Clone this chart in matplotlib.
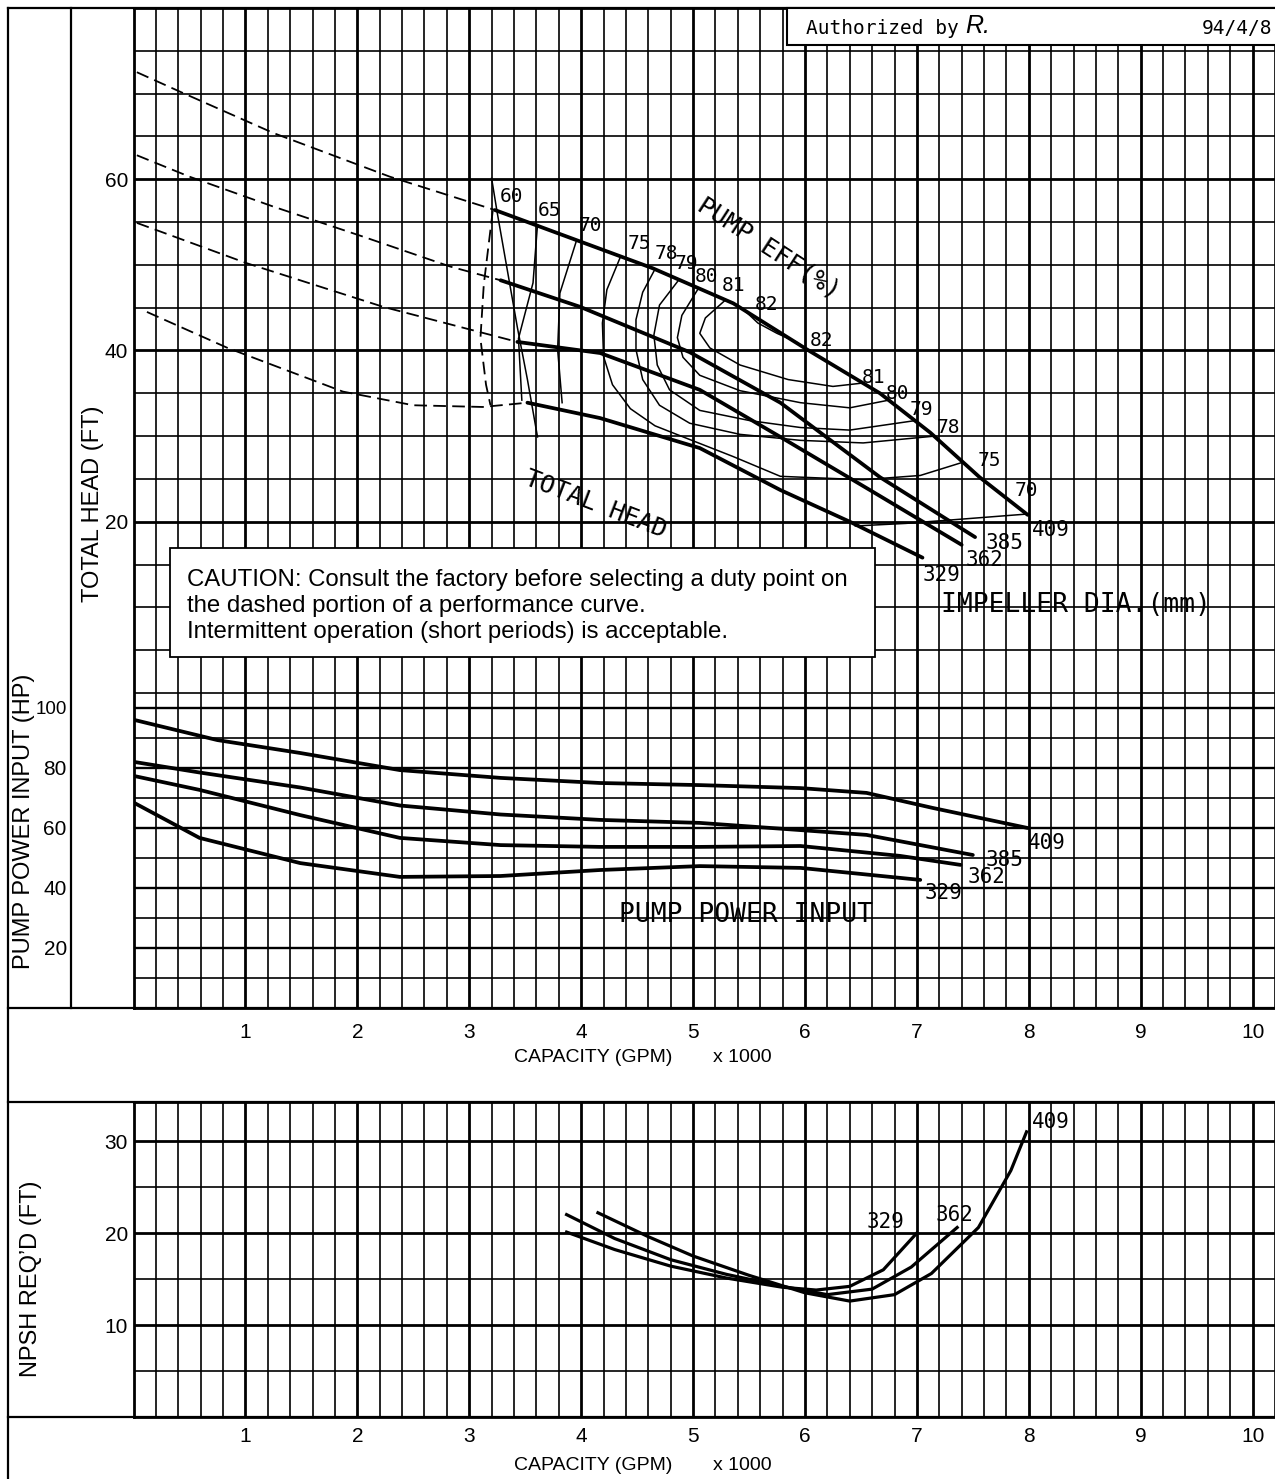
import numpy as np
import matplotlib
matplotlib.use("Agg")
import matplotlib.pyplot as plt
from matplotlib.lines import Line2D
from matplotlib.patches import Rectangle

plt.rcParams['font.family'] = ['Liberation Sans', 'DejaVu Sans']
MONO = ['DejaVu Sans Mono']

# ---------------- data ----------------
capacity_ticks = [1, 2, 3, 4, 5, 6, 7, 8, 9, 10]
head_ticks = [20, 40, 60]
power_ticks = [20, 40, 60, 80, 100]
npsh_ticks = [10, 20, 30]
impellers = ["409", "385", "362", "329"]

# total head (x1000 GPM, ft) : dashed (not recommended) and solid parts
hq409_dash = [0.03, 0.42, 1.25, 2.29, 3.23]
hh409_dash = [72.5, 70.2, 65.4, 60.3, 56.4]
hq409 = [3.23, 4.64, 5.36, 6.02, 6.67, 7.12, 7.56, 7.99]
hh409 = [56.4, 49.6, 45.5, 40.1, 35.0, 30.4, 25.2, 20.8]

hq385_dash = [0.03, 0.50, 1.25, 2.05, 2.83, 3.28]
hh385_dash = [62.8, 60.3, 56.8, 53.3, 49.8, 48.2]
hq385 = [3.28, 3.99, 4.97, 5.78, 6.67, 7.52]
hh385 = [48.2, 45.1, 39.8, 33.9, 25.2, 18.2]

hq362_dash = [0.03, 1.01, 2.23, 3.43]
hh362_dash = [54.9, 50.2, 45.1, 41.0]
hq362 = [3.43, 4.17, 5.06, 5.78, 6.58, 7.40]
hh362 = [41.0, 39.7, 35.4, 29.9, 23.7, 17.3]

hq329_dash = [0.12, 0.84, 1.87, 2.50, 3.12, 3.52]
hh329_dash = [44.5, 40.3, 35.2, 33.6, 33.4, 33.9]
hq329 = [3.52, 4.17, 5.06, 5.78, 6.40, 7.05]
hh329 = [33.9, 32.1, 28.6, 23.7, 20.0, 15.8]

# minimum-flow boundary (dashed)
minflow_q = [3.21, 3.13, 3.10, 3.15, 3.19]
minflow_h = [56.3, 47.7, 41.4, 36.0, 33.6]

# efficiency contours (%)
eff60_q = [3.20, 3.25, 3.34, 3.43, 3.52, 3.61]
eff60_h = [60.1, 56.1, 49.4, 42.7, 36.6, 29.9]
eff65_q = [3.61, 3.57, 3.44, 3.47]
eff65_h = [54.7, 47.9, 41.4, 34.2]
eff70_q = [3.96, 3.81, 3.79, 3.83]
eff70_h = [52.9, 46.7, 40.1, 33.9]
eff70b_q = [6.45, 6.90, 7.40, 7.99]
eff70b_h = [19.5, 19.8, 20.3, 20.9]
eff75_q = [4.35, 4.23, 4.19, 4.20, 4.28, 4.44, 4.66, 4.97, 5.36, 5.78, 6.52, 7.03, 7.40]
eff75_h = [50.9, 47.1, 43.2, 39.3, 36.0, 33.2, 31.2, 29.6, 27.6, 25.3, 24.9, 25.4, 26.9]
eff78_q = [4.66, 4.55, 4.49, 4.49, 4.55, 4.70, 4.97, 5.42, 5.96, 6.52, 7.16]
eff78_h = [49.5, 46.8, 43.6, 40.1, 36.6, 33.6, 31.5, 30.2, 29.5, 29.2, 30.0]
eff79_q = [4.87, 4.70, 4.65, 4.68, 4.79, 5.06, 5.51, 5.96, 6.40, 6.98]
eff79_h = [48.2, 45.3, 41.8, 38.3, 35.4, 33.0, 31.8, 31.0, 30.7, 31.8]
eff80_q = [5.05, 4.90, 4.86, 4.91, 5.06, 5.42, 5.96, 6.40, 6.75]
eff80_h = [47.3, 44.1, 41.5, 39.2, 37.1, 35.3, 33.9, 33.3, 34.2]
eff81_q = [5.29, 5.11, 5.06, 5.15, 5.42, 5.85, 6.25, 6.52]
eff81_h = [45.9, 43.8, 42.0, 40.3, 38.3, 36.6, 35.8, 36.2]
eff82_q = [5.45, 5.58, 5.75, 5.92, 6.05]
eff82_h = [44.8, 43.2, 42.0, 41.0, 39.9]

# pump power input (x1000 GPM, HP)
pq409 = [0.01, 0.75, 1.49, 2.38, 3.28, 4.17, 5.06, 5.96, 6.55, 7.14, 7.99]
pp409 = [96.0, 89.3, 85.0, 79.3, 76.7, 75.0, 74.3, 73.3, 71.7, 66.7, 60.0]
pq385 = [0.01, 0.59, 1.49, 2.38, 3.28, 4.17, 5.06, 5.96, 6.55, 7.50]
pp385 = [82.0, 78.5, 73.5, 67.5, 64.5, 62.7, 61.7, 59.3, 57.7, 51.0]
pq362 = [0.01, 0.59, 1.49, 2.38, 3.28, 4.17, 5.06, 5.96, 6.85, 7.39]
pp362 = [77.3, 72.7, 64.3, 56.7, 54.3, 53.7, 53.7, 54.0, 50.7, 47.7]
pq329 = [0.01, 0.59, 1.49, 2.38, 3.28, 4.17, 5.06, 5.96, 7.03]
pp329 = [68.3, 56.7, 48.3, 43.7, 44.0, 46.0, 47.3, 46.7, 42.7]

# NPSH required (x1000 GPM, ft)
nq329 = [3.87, 4.3, 4.8, 5.3, 5.8, 6.1, 6.4, 6.7, 7.0]
nn329 = [20.1, 18.2, 16.4, 15.1, 14.1, 13.8, 14.2, 16.0, 20.0]
nq362 = [3.87, 4.3, 4.8, 5.3, 5.8, 6.2, 6.6, 6.95, 7.36]
nn362 = [22.0, 19.4, 17.1, 15.5, 14.2, 13.3, 13.9, 16.3, 20.6]
nq409 = [4.15, 4.6, 5.0, 5.5, 6.0, 6.4, 6.8, 7.13, 7.55, 7.84, 7.98]
nn409 = [22.2, 19.6, 17.5, 15.4, 13.5, 12.6, 13.3, 15.6, 20.6, 26.8, 31.0]

caution_lines = ["CAUTION: Consult the factory before selecting a duty point on",
                 "the dashed portion of a performance curve.",
                 "Intermittent operation (short periods) is acceptable."]

# ---------------- figure ----------------
W, H = 1275, 1479
fig = plt.figure(figsize=(W / 100, H / 100), dpi=100)


def rect(x0, y0, x1, y1):
    return [x0 / W, 1 - y1 / H, (x1 - x0) / W, (y1 - y0) / H]


def fline(x0, y0, x1, y1, lw=1.6):
    fig.add_artist(Line2D([x0 / W, x1 / W], [1 - y0 / H, 1 - y1 / H],
                          transform=fig.transFigure, color='black', lw=lw, zorder=3))


def ftext(x, y, s, **kw):
    fig.text(x / W, 1 - y / H, s, **kw)


ax = fig.add_axes(rect(133.5, 8, 1275, 1008))
ax.set_xlim(0, 10.2)
ax.set_ylim(-36.8, 80)
axp = ax.twinx()
axp.set_ylim(0, 333.33)
axn = fig.add_axes(rect(133.5, 1102, 1275, 1417))
axn.set_xlim(0, 10.2)
axn.set_ylim(0, 34.24)

for a, pad in ((ax, 11), (axn, 7)):
    a.set_xticks(capacity_ticks)
    a.set_xticklabels([str(v) for v in capacity_ticks])
    a.set_xticks(np.arange(0, 10.21, 0.2), minor=True)
    a.tick_params(axis='x', which='both', length=0, labelsize=15, pad=pad)
    a.spines['right'].set_visible(False)
    for s in ('left', 'top', 'bottom'):
        a.spines[s].set_linewidth(2.0)

ax.set_yticks(head_ticks)
ax.set_yticks(np.arange(0, 81, 5), minor=True)
ax.tick_params(axis='y', which='both', length=0, labelsize=15, pad=4)

axp.yaxis.tick_left()
axp.set_yticks(power_ticks)
axp.set_yticklabels([str(v) for v in power_ticks])
axp.set_yticks(np.arange(0, 101, 10), minor=True)
axp.tick_params(axis='y', which='both', length=0, labelsize=15, pad=48,
                left=True, labelleft=True, right=False, labelright=False)
axp.get_yticklabels()[-1].set_fontsize(13.5)
for s in axp.spines.values():
    s.set_visible(False)

axn.set_yticks(npsh_ticks)
axn.set_yticks(np.arange(0, 31, 5), minor=True)
axn.tick_params(axis='y', which='both', length=0, labelsize=15, pad=4)

for a in (ax, axn):
    a.grid(True, which='major', axis='both', color='black', lw=2.0)
    a.grid(True, which='minor', axis='both', color='black', lw=1.2)
    a.set_axisbelow(True)
axp.grid(True, which='major', axis='y', color='black', lw=1.7)
axp.grid(True, which='minor', axis='y', color='black', lw=1.2)

TH = 2.7
DASH = dict(color='black', lw=1.3, linestyle=(0, (7, 3.5)))
THIN = dict(color='black', lw=1.1)

# head curves
for q, h in ((hq409_dash, hh409_dash), (hq385_dash, hh385_dash),
             (hq362_dash, hh362_dash), (hq329_dash, hh329_dash),
             (minflow_q, minflow_h)):
    ax.plot(q, h, **DASH)
for q, h in ((hq409, hh409), (hq385, hh385), (hq362, hh362), (hq329, hh329)):
    ax.plot(q, h, color='black', lw=TH, solid_capstyle='round')

for q, h in ((eff60_q, eff60_h), (eff65_q, eff65_h), (eff70_q, eff70_h),
             (eff70b_q, eff70b_h), (eff75_q, eff75_h), (eff78_q, eff78_h),
             (eff79_q, eff79_h), (eff80_q, eff80_h), (eff81_q, eff81_h),
             (eff82_q, eff82_h)):
    ax.plot(q, h, **THIN)

# power curves
for q, p in ((pq409, pp409), (pq385, pp385), (pq362, pp362), (pq329, pp329)):
    axp.plot(q, p, color='black', lw=TH, solid_capstyle='round')

# NPSH curves
for q, n in ((nq329, nn329), (nq362, nn362), (nq409, nn409)):
    axn.plot(q, n, color='black', lw=2.3)

# hand-lettered labels
LBL = dict(family=MONO, color='black')
for s, x, y in (("60", 3.38, 58.0), ("65", 3.72, 56.3), ("70", 4.08, 54.6),
                ("75", 4.52, 52.5), ("78", 4.76, 51.3), ("79", 4.94, 50.1),
                ("80", 5.12, 48.6), ("81", 5.36, 47.6), ("82", 5.66, 45.4)):
    ax.text(x, y, s, fontsize=14, ha='center', va='center', **LBL)
for s, x, y in (("82", 6.15, 41.2), ("81", 6.61, 36.9), ("80", 6.83, 35.0),
                ("79", 7.04, 33.1), ("78", 7.28, 31.0), ("75", 7.65, 27.2),
                ("70", 7.98, 23.7)):
    ax.text(x, y, s, fontsize=14, ha='center', va='center', **LBL)
ax.text(5.68, 52.0, "PUMP EFF(%)", fontsize=18, rotation=-33, ha='center',
        va='center', **LBL)
ax.text(4.13, 22.0, "TOTAL HEAD", fontsize=18, rotation=-21, ha='center',
        va='center', **LBL)
for s, x, y in zip(impellers, [8.2, 7.78, 7.6, 7.22], [19.0, 17.5, 15.5, 13.8]):
    ax.text(x, y, s, fontsize=15, ha='center', va='center', **LBL)
ax.text(8.42, 10.3, "IMPELLER DIA.(mm)", fontsize=19, ha='center', va='center', **LBL)

for s, x, y in zip(impellers, [8.16, 7.78, 7.62, 7.24], [55.0, 49.3, 43.7, 38.3]):
    axp.text(x, y, s, fontsize=15, ha='center', va='center', **LBL)
axp.text(5.47, 31.0, "PUMP POWER INPUT", fontsize=19, ha='center', va='center', **LBL)

for s, x, y in (("329", 6.72, 21.2), ("362", 7.34, 22.0), ("409", 8.2, 32.1)):
    axn.text(x, y, s, fontsize=15, ha='center', va='center', **LBL)

# frame lines
fline(8, 8, 8, 1479)
fline(71, 8, 71, 1008)
fline(8, 8, 1275, 8)
fline(8, 1008, 1275, 1008)
fline(8, 1102, 1275, 1102)
fline(8, 1417, 1275, 1417)

# axis titles
ftext(93, 504, "TOTAL HEAD (FT)", fontsize=17, rotation=90, ha='center', va='center')
ftext(24, 821, "PUMP POWER INPUT (HP)", fontsize=17, rotation=90, ha='center', va='center')
ftext(31, 1279, "NPSH REQ\u2019D (FT)", fontsize=17, rotation=90, ha='center', va='center')
for yy in (1057, 1465):
    ftext(593, yy, "CAPACITY (GPM)", fontsize=14, ha='center', va='center')
    ftext(742, yy, "x 1000", fontsize=14, ha='center', va='center')

# caution box
fig.add_artist(Rectangle((170 / W, 1 - 657 / H), 705 / W, 109 / H,
                         transform=fig.transFigure, facecolor='white',
                         edgecolor='black', lw=1.3, zorder=10))
for i, s in enumerate(caution_lines):
    ftext(187, 580 + 26 * i, s, fontsize=17.3, va='center', zorder=11)

# authorization box
fig.add_artist(Rectangle((787 / W, 1 - 45 / H), 500 / W, 37 / H,
                         transform=fig.transFigure, facecolor='white',
                         edgecolor='black', lw=1.5, zorder=10))
ftext(806, 28, "Authorized by", fontsize=14, va='center', family=MONO, zorder=11)
ftext(965, 26, "R.", fontsize=18, va='center', style='italic', zorder=11)
fline(925, 38, 1115, 36, lw=1.2)
ftext(1272, 28, "94/4/8", fontsize=14, va='center', ha='right', family=MONO, zorder=11)

fig.savefig("out.png", dpi=100)
